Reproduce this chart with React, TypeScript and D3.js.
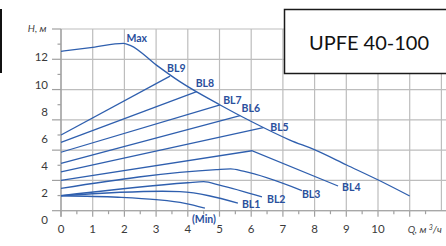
import * as d3 from 'd3';

// pump curves, Q in m3/h, H in m
const maxCurve: [number, number][] = [
  [0, 12.45], [1.0, 12.74], [1.97, 13.04], [2.2, 12.87], [3.0, 11.45], [3.75, 10.21],
  [5.02, 8.49], [6.02, 7.25], [7.22, 5.9], [8.01, 5.17], [9.01, 4.06], [10.01, 2.95], [11.0, 1.77],
];
const bl9: [number, number][] = [[0, 6.27], [3.44, 10.62]];
const bl8: [number, number][] = [[0, 5.73], [4.28, 9.47]];
const bl7: [number, number][] = [[0, 5.0], [5.02, 8.49]];
const bl6: [number, number][] = [[0, 4.18], [5.65, 7.71]];
const bl5: [number, number][] = [[0, 3.56], [6.38, 6.82]];
const bl4: [number, number][] = [[0, 2.93], [6.02, 5.11], [8.74, 2.51]];
const bl3: [number, number][] = [[0, 2.34], [4.9, 3.72], [5.35, 3.77], [5.75, 3.6], [7.6, 2.17]];
const bl2: [number, number][] = [[0, 1.8], [4.0, 2.75], [4.5, 2.83], [5.0, 2.58], [6.34, 1.7]];
const bl1: [number, number][] = [[0, 1.79], [3.2, 2.12], [3.75, 2.09], [5.58, 1.25]];
const minCurve: [number, number][] = [[0, 1.79], [1.8, 1.68], [3.0, 1.5], [3.91, 1.23], [4.54, 0.88]];

const curveNames = ['Max', 'BL9', 'BL8', 'BL7', 'BL6', 'BL5', 'BL4', 'BL3', 'BL2', 'BL1', '(Min)'];
const curveData = [maxCurve, bl9, bl8, bl7, bl6, bl5, bl4, bl3, bl2, bl1, minCurve];

const xTickValues = [0, 1, 2, 3, 4, 5, 6, 7, 8, 9, 10];
const yTickValues = [0, 2, 4, 6, 8, 10, 12];
const title = 'UPFE 40-100';

// where each label sits relative to the point it belongs to (peak for Max, end for the others)
const labelOffset: Record<string, [number, number]> = {
  Max: [3, -1], BL9: [-3, -4.5], BL8: [-1, -4.5], BL7: [3, -1], BL6: [1.5, -3.5], BL5: [7, 3],
  BL4: [4, 5.5], BL3: [0, 7.5], BL2: [5, 6], BL1: [4, 4.5], '(Min)': [-13, 14.5],
};
const smooth = new Set(['Max', 'BL3', 'BL2', 'BL1', '(Min)']);

const W = 446;
const H = 246;
const lineColor = '#2f5fae';
const labelColor = '#2a4f9c';
const gridColor = '#bdbdbd';

export default function App() {
  const x = d3.scaleLinear().domain([0, 12]).range([61, 441.4]);
  const y = d3.scaleLinear().domain([0, 14]).range([220, 30.3]);
  // grid of the original sheet is drawn on its own spacing
  const gridY = d3.scaleLinear().domain([0, 12]).range([210.7, 29]);
  const gridX = d3.range(0, 13);
  const gridH = d3.range(0, 13, 2);
  const minorH = d3.range(1, 12, 2);
  const minorX = d3.range(0.5, 12, 1);

  const lineGen = (name: string) =>
    d3.line<[number, number]>()
      .x(d => x(d[0]))
      .y(d => y(d[1]))
      .curve(smooth.has(name) ? d3.curveMonotoneX : d3.curveLinear);

  const left = x(0);
  const bottom = gridY(0);

  return (
    <svg width={W} height={H} style={{ position: 'absolute', left: 0, top: 0, background: '#fff' }}
      fontFamily="Lato, 'Open Sans', sans-serif">
      {/* grid */}
      {gridH.map(v => (
        <line key={'h' + v} x1={left} x2={W} y1={gridY(v)} y2={gridY(v)} stroke={gridColor} strokeWidth={1.2} />
      ))}
      {gridX.map(v => (
        <line key={'v' + v} x1={x(v)} x2={x(v)} y1={gridY(12)} y2={bottom} stroke={gridColor} strokeWidth={1.2} />
      ))}
      {/* axis ticks */}
      {gridH.map(v => (
        <line key={'yt' + v} x1={left - 9} x2={left} y1={gridY(v)} y2={gridY(v)} stroke="#a0a0a0" strokeWidth={1.2} />
      ))}
      {minorH.map(v => (
        <line key={'ym' + v} x1={left - 3.5} x2={left} y1={gridY(v)} y2={gridY(v)} stroke="#a0a0a0" strokeWidth={1.2} />
      ))}
      {xTickValues.concat([11]).map(v => (
        <line key={'xt' + v} x1={x(v)} x2={x(v)} y1={bottom} y2={bottom + 6} stroke="#a0a0a0" strokeWidth={1.2} />
      ))}
      {minorX.map(v => (
        <line key={'xm' + v} x1={x(v)} x2={x(v)} y1={bottom} y2={bottom + 3.5} stroke="#a0a0a0" strokeWidth={1.2} />
      ))}
      <line x1={left} x2={left} y1={gridY(12)} y2={bottom + 6} stroke="#a0a0a0" strokeWidth={1.3} />
      <line x1={left} x2={W} y1={bottom} y2={bottom} stroke="#a8a8a8" strokeWidth={1.3} />

      {/* tick labels */}
      {yTickValues.map(v => (
        <text key={'yl' + v} x={48} y={y(v) + 4} textAnchor="end" fontSize={11.5} fill="#3a3a3a">{v}</text>
      ))}
      {xTickValues.map(v => (
        <text key={'xl' + v} x={x(v)} y={233} textAnchor="middle" fontSize={11.5} fill="#3a3a3a">{v}</text>
      ))}
      <text x={46.5} y={31.5} textAnchor="end" fontSize={10} fontStyle="italic" fill="#444">H, м</text>
      <text x={x(11) - 2} y={233} fontSize={10} fontStyle="italic" fill="#444">
        Q, м <tspan fontSize={7} dy={-3.5}>3</tspan><tspan dy={3.5}>/ч</tspan>
      </text>

      {/* curves */}
      {curveData.map((pts, i) => (
        <path key={curveNames[i]} d={lineGen(curveNames[i])(pts) || ''} fill="none" stroke={lineColor} strokeWidth={1.3} />
      ))}
      {curveData.map((pts, i) => {
        const name = curveNames[i];
        const anchor = name === 'Max' ? pts[d3.maxIndex(pts, d => d[1])] : pts[pts.length - 1];
        const [dx, dy] = labelOffset[name];
        return (
          <text key={'l' + name} x={x(anchor[0]) + dx} y={y(anchor[1]) + dy} fontSize={10.5} fontWeight={700}
            fill={labelColor}>{name}</text>
        );
      })}

      {/* title box */}
      <rect x={284.5} y={9.5} width={170} height={64} fill="#fff" stroke="#1a1a1a" strokeWidth={1.5} />
      <text x={369} y={50} textAnchor="middle" fontSize={20} fill="#111">{title}</text>
      <line x1={1} x2={1} y1={9} y2={73} stroke="#111" strokeWidth={2} />
    </svg>
  );
}
